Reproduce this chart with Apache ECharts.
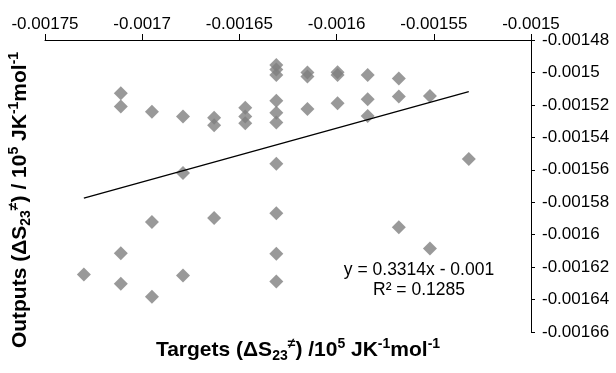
<!DOCTYPE html>
<html><head><meta charset="utf-8">
<script src="https://cdn.jsdelivr.net/npm/echarts@6/dist/echarts.min.js"></script>
<style>html,body{margin:0;padding:0;background:#fff}#c{width:616px;height:373px}</style>
</head><body><div id="c"></div>
<script>
// Targets (x) and Outputs (y)
const targets = [
  -0.00173,
  -0.001711, -0.001711, -0.001711, -0.001711,
  -0.001695, -0.001695, -0.001695,
  -0.001679, -0.001679, -0.001679,
  -0.001663, -0.001663, -0.001663,
  -0.001647, -0.001647, -0.001647,
  -0.001631, -0.001631, -0.001631, -0.001631, -0.001631, -0.001631, -0.001631, -0.001631, -0.001631, -0.001631,
  -0.001615, -0.001615, -0.001615,
  -0.0015995, -0.0015995, -0.0015995,
  -0.001584, -0.001584, -0.001584,
  -0.001568, -0.001568, -0.001568,
  -0.001552, -0.001552,
  -0.001532
];
const outputs = [
  -0.0016246,
  -0.0015128, -0.001521, -0.0016114, -0.0016302,
  -0.0015243, -0.0015922, -0.0016383,
  -0.0015272, -0.001562, -0.0016252,
  -0.001528, -0.0015325, -0.0015898,
  -0.0015218, -0.0015272, -0.0015313,
  -0.0014954, -0.0014982, -0.0015015, -0.0015175, -0.0015249, -0.0015308, -0.0015563, -0.0015868, -0.0016117, -0.0016289,
  -0.0015, -0.0015025, -0.0015226,
  -0.0014999, -0.0015015, -0.001519,
  -0.0015015, -0.0015166, -0.0015268,
  -0.0015038, -0.0015149, -0.0015955,
  -0.0015145, -0.0016086,
  -0.0015534
];
const xTicks = { min: -0.00175, max: -0.0015, interval: 0.00005 };
const yTicks = { min: -0.00166, max: -0.00148, interval: 0.00002 };
const trendText = ['y = 0.3314x - 0.001', 'R\u00b2 = 0.1285'];

// linear least-squares trend line
const n = targets.length;
let sx=0, sy=0, sxx=0, sxy=0;
for (let i=0;i<n;i++){ sx+=targets[i]; sy+=outputs[i]; sxx+=targets[i]*targets[i]; sxy+=targets[i]*outputs[i]; }
const slope = (n*sxy - sx*sy)/(n*sxx - sx*sx);
const icpt = (sy - slope*sx)/n;
const xMin = Math.min(...targets), xMax = Math.max(...targets);
const trend = [[xMin, slope*xMin+icpt],[xMax, slope*xMax+icpt]];

const fmt = v => String(parseFloat(v.toFixed(6)));
const FONT = '"Liberation Sans", Arial, sans-serif';
const rich = {
  b:{fontSize:21,fontWeight:'bold',fontFamily:FONT,color:'#000',lineHeight:26},
  sup:{fontSize:14,fontWeight:'bold',fontFamily:FONT,color:'#000',verticalAlign:'top',lineHeight:26},
  sub:{fontSize:14,fontWeight:'bold',fontFamily:FONT,color:'#000',verticalAlign:'bottom',lineHeight:26}
};

const chart = echarts.init(document.getElementById('c'), null, {renderer:'canvas'});
chart.setOption({
  animation:false,
  grid:{left:45,right:85,top:40,bottom:41},
  xAxis:{type:'value',position:'top',min:xTicks.min,max:xTicks.max,interval:xTicks.interval,
    axisLine:{show:true,onZero:false,lineStyle:{color:'#000',width:1}},
    axisTick:{show:true,length:6,lineStyle:{color:'#000'}},
    splitLine:{show:false},
    axisLabel:{fontSize:17,color:'#000',fontFamily:FONT,margin:7,formatter:fmt}},
  yAxis:{type:'value',position:'right',min:yTicks.min,max:yTicks.max,interval:yTicks.interval,
    axisLine:{show:true,onZero:false,lineStyle:{color:'#000',width:1}},
    axisTick:{show:true,length:4,lineStyle:{color:'#000'}},
    splitLine:{show:false},
    axisLabel:{fontSize:17,color:'#000',fontFamily:FONT,margin:11,formatter:fmt}},
  series:[
    {type:'scatter',symbol:'diamond',symbolSize:14,itemStyle:{color:'#808080'},
     data:targets.map((x,i)=>[x,outputs[i]]),z:2},
    {type:'line',data:trend,symbol:'none',lineStyle:{color:'#000',width:1.3},z:3,silent:true}
  ],
  graphic:[
    {type:'text',x:298,y:350,style:{text:'{b|Targets (\u0394S}{sub|23}{sup|\u2260}{b|) /10}{sup|5}{b| JK}{sup|-1}{b|mol}{sup|-1}',rich:rich,align:'center',verticalAlign:'middle'}},
    {type:'text',x:20,y:200,rotation:Math.PI/2,style:{text:'{b|Outputs (\u0394S}{sub|23}{sup|\u2260}{b|) / 10}{sup|5}{b| JK}{sup|-1}{b|mol}{sup|-1}',rich:rich,align:'center',verticalAlign:'middle'}},
    {type:'text',x:419,y:270,style:{text:trendText[0],font:'17.5px '+FONT,fill:'#000',align:'center',verticalAlign:'middle'}},
    {type:'text',x:419,y:290,style:{text:trendText[1],font:'17.5px '+FONT,fill:'#000',align:'center',verticalAlign:'middle'}}
  ]
});
</script></body></html>
